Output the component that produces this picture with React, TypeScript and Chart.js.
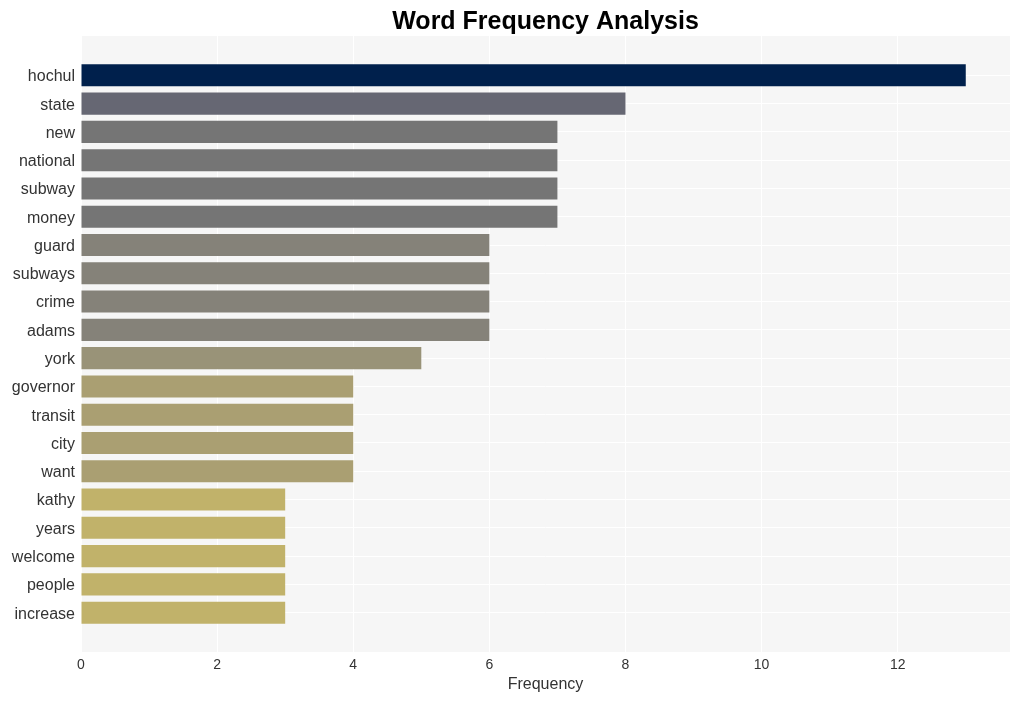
import React, { useEffect, useRef } from "react";
import { Chart, registerables } from "chart.js";

Chart.register(...registerables);

const categories = [
  "hochul", "state", "new", "national", "subway", "money", "guard", "subways", "crime", "adams",
  "york", "governor", "transit", "city", "want", "kathy", "years", "welcome", "people", "increase",
];
const frequencies = [13, 8, 7, 7, 7, 7, 6, 6, 6, 6, 5, 4, 4, 4, 4, 3, 3, 3, 3, 3];
const barColors = [
  "#00204c", "#666773", "#757575", "#757575", "#757575", "#757575",
  "#858279", "#858279", "#858279", "#858279", "#999378",
  "#aa9f72", "#aa9f72", "#aa9f72", "#aa9f72",
  "#c1b26a", "#c1b26a", "#c1b26a", "#c1b26a", "#c1b26a",
];
const xTickStep = 2;
const xMax = 13.65;
const titleText = "Word Frequency Analysis";
const xTitle = "Frequency";

export default function App() {
  const ref = useRef<HTMLCanvasElement | null>(null);

  useEffect(() => {
    document.body.style.margin = "0";
    const canvas = ref.current;
    if (!canvas) return;

    const bgPlugin = {
      id: "plotBg",
      beforeDraw(chart: any) {
        const { ctx, chartArea } = chart;
        ctx.save();
        ctx.fillStyle = "#f6f6f6";
        ctx.fillRect(chartArea.left, chartArea.top, chartArea.right - chartArea.left, chartArea.bottom - chartArea.top);
        ctx.restore();
      },
      afterDraw(chart: any) {
        const { ctx, chartArea } = chart;
        ctx.save();
        ctx.fillStyle = "#000000";
        ctx.font = "bold 25px 'Liberation Sans', Arial, sans-serif";
        ctx.textAlign = "center";
        ctx.textBaseline = "alphabetic";
        ctx.fillText(titleText, (chartArea.left + chartArea.right) / 2, 29);
        ctx.restore();
      },
    };

    const chart = new Chart(canvas, {
      type: "bar",
      data: {
        datasets: [
          {
            data: frequencies.map((v, i) => ({ x: v, y: i })),
            backgroundColor: barColors,
            borderWidth: 0,
            inflateAmount: 0,
            categoryPercentage: 1,
            barPercentage: 0.78,
          },
        ],
      },
      options: {
        indexAxis: "y",
        animation: false,
        responsive: true,
        maintainAspectRatio: false,
        layout: { padding: { top: 36, right: 10, left: 0, bottom: 0 } },
        plugins: {
          legend: { display: false },
          tooltip: { enabled: false },
          title: { display: false },
        },
        scales: {
          x: {
            type: "linear",
            min: 0,
            max: xMax,
            bounds: "data",
            offset: false,
            border: { display: false },
            grid: { color: "#ffffff", lineWidth: 1, drawTicks: false, offset: false },
            ticks: {
              stepSize: xTickStep,
              includeBounds: false,
              padding: 5,
              color: "#333333",
              font: { family: "'Liberation Sans', Arial, sans-serif", size: 14 },
            },
            title: {
              display: true,
              text: xTitle,
              color: "#333333",
              padding: { top: 0, bottom: 7 },
              font: { family: "'Liberation Sans', Arial, sans-serif", size: 16 },
            },
            afterFit(scale: any) {
              scale.height = 49;
            },
          },
          y: {
            type: "linear",
            min: -1.39,
            max: categories.length - 1 + 1.39,
            bounds: "data",
            offset: false,
            reverse: true,
            border: { display: false },
            grid: { color: "#ffffff", lineWidth: 1, drawTicks: false, offset: false },
            afterBuildTicks(axis: any) {
              axis.ticks = categories.map((_, i) => ({ value: i }));
            },
            ticks: {
              padding: 6,
              labelOffset: 1.5,
              color: "#333333",
              autoSkip: false,
              font: { family: "'Liberation Sans', Arial, sans-serif", size: 16 },
              callback: (value: any) => categories[Number(value)] ?? "",
            },
            afterFit(scale: any) {
              scale.width = 81;
            },
          },
        },
      },
      plugins: [bgPlugin],
    } as any);

    return () => chart.destroy();
  }, []);

  return (
    <div style={{ position: "relative", width: 1020, height: 701 }}>
      <canvas ref={ref} />
    </div>
  );
}
